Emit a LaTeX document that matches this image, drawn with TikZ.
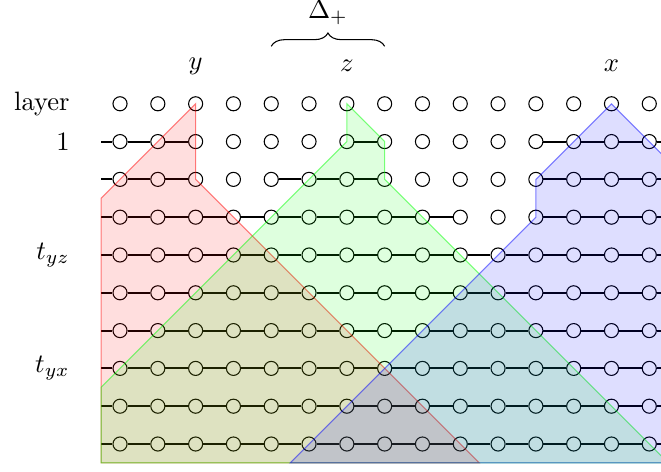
\documentclass[tikz,border=0pt]{standalone}
\usetikzlibrary{decorations.pathreplacing}
\begin{document}
\begin{tikzpicture}[x=0.5cm,y=-0.5cm,
  dot/.style={circle,draw,fill=white,inner sep=0pt,minimum size=5.3pt},
  edge/.style={thick},
  region/.style={draw=#1,draw opacity=0.5,fill=#1,fill opacity=0.13},
  rowlabel/.style={anchor=east,inner sep=0pt}]
\useasboundingbox (-3.175,-2.745) rectangle (14.31,9.72);
\clip (-3.175,-2.745) rectangle (14.31,9.72);
% grid of nodes
\foreach \r in {0,...,9}{
  \foreach \c in {0,...,14}{
    \node[dot] (n-\c-\r) at (\c,\r) {};
  }
  \coordinate (L-\r) at (-0.5,\r);
  \coordinate (R-\r) at (14.8,\r);
}
% stubs
\foreach \r in {1,...,9}{
  \draw[edge] (L-\r) -- (n-0-\r);
  \draw[edge] (n-14-\r) -- (R-\r);
}
% row 1
\foreach \a/\b in {0/1,1/2,6/7,11/12,12/13,13/14}
  \draw[edge] (n-\a-1) -- (n-\b-1);
% row 2
\foreach \a/\b in {0/1,1/2,4/5,5/6,6/7,11/12,12/13,13/14}
  \draw[edge] (n-\a-2) -- (n-\b-2);
% row 3
\foreach \a/\b in {0/1,1/2,2/3,3/4,4/5,5/6,6/7,7/8,8/9,11/12,12/13,13/14}
  \draw[edge] (n-\a-3) -- (n-\b-3);
% rows 4-9
\foreach \r in {4,...,9}{
  \foreach \a/\b in {0/1,1/2,2/3,3/4,4/5,5/6,6/7,7/8,8/9,9/10,10/11,11/12,12/13,13/14}
    \draw[edge] (n-\a-\r) -- (n-\b-\r);
}
% regions
\draw[region=red] (n-2-0.center) -- (-0.5,2.5) -- (-0.5,9.5) -- (9.5,9.5) -- (n-2-2.center) -- cycle;
\draw[region=green] (n-6-0.center) -- (n-6-1.center) -- (-0.5,7.5) -- (-0.5,9.5) -- (14.5,9.5) -- (n-7-2.center) -- (n-7-1.center) -- cycle;
\draw[region=blue] (n-13-0.center) -- (n-11-2.center) -- (n-11-3.center) -- (4.5,9.5) -- (21.5,9.5) -- (15,3) -- (15,2) -- cycle;
% labels
\node[rowlabel] (lbl-layer) at (-1.32,0) {layer};
\node[rowlabel] (lbl-one) at (-1.32,1) {1};
\node[rowlabel] (lbl-tyz) at (-1.32,4) {$t_{yz}$};
\node[rowlabel] (lbl-tyx) at (-1.32,7) {$t_{yx}$};
\node (lbl-y) at (2,-1) {$y$};
\node (lbl-z) at (6,-1) {$z$};
\node (lbl-x) at (13,-1) {$x$};
\coordinate (br-a) at (4,-1.52);
\coordinate (br-b) at (7,-1.52);
\draw[decorate,decoration={brace,amplitude=5pt}] (br-a) -- (br-b);
\node (lbl-delta) at (5.5,-2.42) {$\Delta_+$};
\end{tikzpicture}
\end{document}
